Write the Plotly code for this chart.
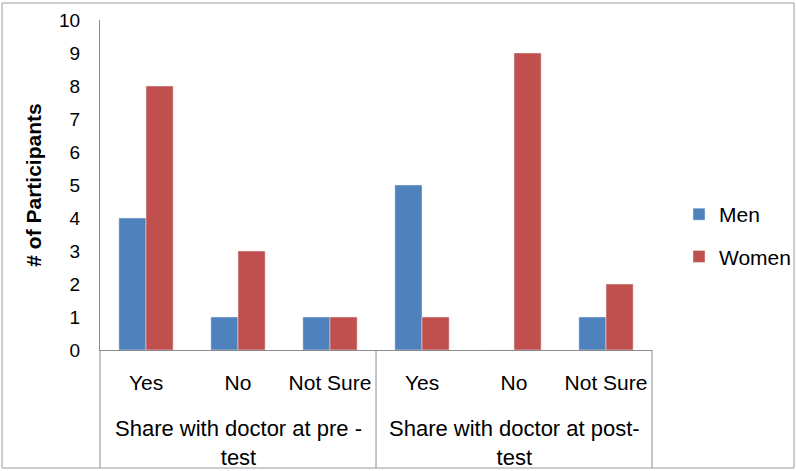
import plotly.graph_objects as go

# Data
groups = ["Share with doctor at pre -<br>test", "Share with doctor at post-<br>test"]
answers = ["Yes", "No", "Not Sure", "Yes", "No", "Not Sure"]
men = [4, 1, 1, 5, 0, 1]
women = [8, 3, 1, 1, 9, 2]
y_ticks = list(range(0, 11))

pos = list(range(len(answers)))
FONT = "Liberation Sans, Arial, sans-serif"
GRID = "#8c8c8c"

fig = go.Figure()
fig.add_trace(go.Bar(x=pos, y=men, name="Men", marker_color="#4F81BD",
                     legendgroup="m"))
fig.add_trace(go.Bar(x=pos, y=women, name="Women", marker_color="#C0504D",
                     legendgroup="w"))

L, R, T, B = 100, 144, 20, 121
W, H = 796, 471
pw, ph = W - L - R, H - T - B

def px_x(px):
    return (px - L) / pw

def px_y(py):
    return (H - B - py) / ph

shapes = []
# table lines below x axis
for xp in [0, 0.5, 1]:
    shapes.append(dict(type="line", xref="paper", yref="paper",
                       x0=xp, x1=xp, y0=0, y1=px_y(468),
                       line=dict(color=GRID, width=1)))
# outer border
shapes.append(dict(type="rect", xref="paper", yref="paper",
                   x0=px_x(2), x1=px_x(794), y0=px_y(468), y1=px_y(3),
                   line=dict(color="#9a9a9a", width=1)))

annotations = []
for gi, g in enumerate(groups):
    annotations.append(dict(text=g, x=(gi * 3 + 1.5) / 6,
                            xref="paper", yref="paper",
                            y=px_y(414), yanchor="top", xanchor="center",
                            showarrow=False,
                            font=dict(family=FONT, size=22, color="black")))

fig.update_layout(
    width=W, height=H,
    margin=dict(l=L, r=R, t=T, b=B, autoexpand=False),
    paper_bgcolor="white", plot_bgcolor="white",
    barmode="group", bargap=0.41, bargroupgap=0,
    font=dict(family=FONT, color="black"),
    shapes=shapes, annotations=annotations,
    legend=dict(x=px_x(679), xanchor="left", y=px_y(194), yanchor="top",
                font=dict(family=FONT, size=21, color="black"),
                tracegroupgap=12, bgcolor="rgba(0,0,0,0)"),
    xaxis=dict(range=[-0.5, 5.5], tickvals=pos, ticktext=answers,
               showline=True, linecolor=GRID, linewidth=1,
               showgrid=False, zeroline=False, ticks="", automargin=False,
               tickfont=dict(family=FONT, size=21, color="black"),
               ticklabelstandoff=14),
    yaxis=dict(range=[0, 10], tickvals=y_ticks, showline=True,
               linecolor=GRID, linewidth=1, showgrid=False, zeroline=False,
               ticks="", automargin=False,
               tickfont=dict(family=FONT, size=19, color="black"),
               ticklabelstandoff=15,
               title=dict(text="<b># of Participants</b>",
                          font=dict(family=FONT, size=21, color="black"),
                          standoff=11)),
)

fig.write_html("out.html", config={"displayModeBar": False},
               post_script="document.body.style.margin='0';")
